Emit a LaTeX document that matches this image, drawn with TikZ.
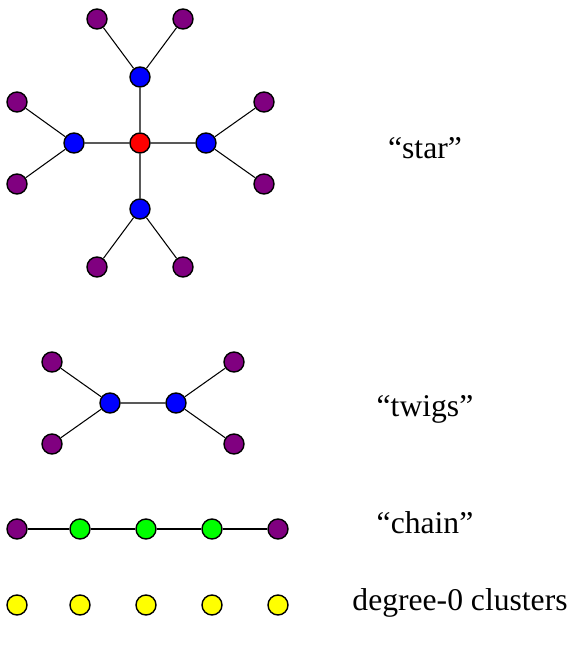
\documentclass[tikz,border=0pt]{standalone}
\usepackage{fontspec}
\setmainfont{Liberation Serif}
\definecolor{vpurple}{RGB}{128,0,128}
\definecolor{vgreen}{RGB}{0,255,0}
\definecolor{vyellow}{RGB}{255,255,0}
\begin{document}
\begin{tikzpicture}
		[x=0.02cm, y=-0.02cm, semithick,
		vertex/.style={circle,draw,thick,inner sep=0pt,minimum size=0.4cm},
		core/.style={vertex,fill=red},
		hub/.style={vertex,fill=blue},
		leaf/.style={vertex,fill=vpurple},
		link/.style={vertex,fill=vgreen},
		lone/.style={vertex,fill=vyellow},
		caption/.style={font=\fontsize{18}{21}\selectfont}]
		\useasboundingbox (0,0) rectangle (570,648);
		% star
		\node[core] (c) at (140,143) {};
		\node[hub] (n) at (140,77) {};
		\node[hub] (w) at (74,143) {};
		\node[hub] (e) at (206,143) {};
		\node[hub] (s) at (140,209) {};
		\node[leaf] (n1) at (97,19) {};
		\node[leaf] (n2) at (183,19) {};
		\node[leaf] (w1) at (17,102) {};
		\node[leaf] (w2) at (17,184) {};
		\node[leaf] (e1) at (264,102) {};
		\node[leaf] (e2) at (264,184) {};
		\node[leaf] (s1) at (97,267) {};
		\node[leaf] (s2) at (183,267) {};
		\foreach \h in {n,w,e,s}
			\draw (c) -- (\h) (\h) -- (\h1) (\h) -- (\h2);
		\node[caption] (star) at (425,148) {``star''};
		% twigs
		\node[hub] (tl) at (110,403) {};
		\node[hub] (tr) at (176,403) {};
		\node[leaf] (tl1) at (52,362) {};
		\node[leaf] (tl2) at (52,444) {};
		\node[leaf] (tr1) at (234,362) {};
		\node[leaf] (tr2) at (234,444) {};
		\draw (tl) -- (tr)
			(tl) -- (tl1) (tl) -- (tl2)
			(tr) -- (tr1) (tr) -- (tr2);
		\node[caption] (twigs) at (425,409) {``twigs''};
		% chain
		\node[leaf] (k0) at (17,529) {};
		\node[link] (k1) at (80,529) {};
		\node[link] (k2) at (146,529) {};
		\node[link] (k3) at (212,529) {};
		\node[leaf] (k4) at (278,529) {};
		\draw (k0) -- (k1) -- (k2) -- (k3) -- (k4);
		\node[caption] (chain) at (425,523) {``chain''};
		% degree-0
		\foreach \x [count=\i] in {17,80,146,212,278}
			\node[lone] (z\i) at (\x,605) {};
		\node[caption] (zero) at (460,603) {degree-0 clusters};
	\end{tikzpicture}
\end{document}
